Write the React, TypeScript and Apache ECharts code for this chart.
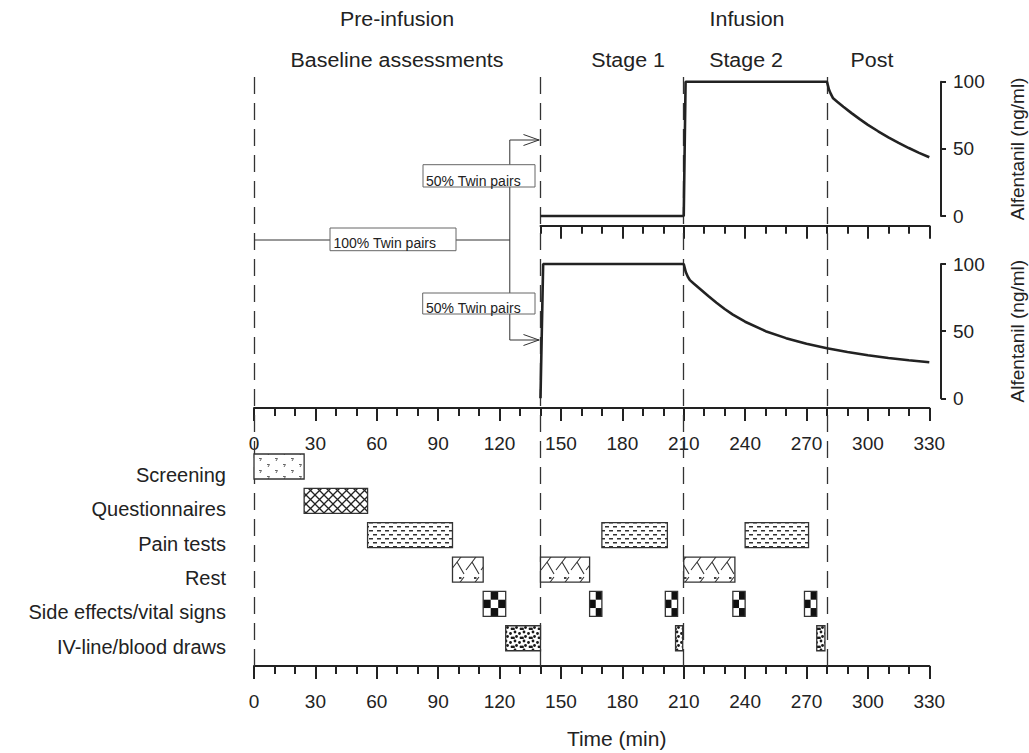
import React, { useEffect, useRef } from 'react';
import * as echarts from 'echarts';

const FONT = '"Liberation Sans", Arial, Helvetica, sans-serif';
const INK = '#222222';

// ---- time axis ----
const timeMin = 0;
const timeMax = 330;
const timeInterval = 30;
const phaseBoundaries = [0, 140, 210, 280];
const upperAxisMajorTicks = [150, 180, 210, 240, 270, 300, 330];
const upperAxisMinorTicks = [140, 160, 170, 190, 200, 220, 230, 250, 260, 280, 290, 310, 320];

// ---- concentration axes ----
const concMin = 0;
const concMax = 100;
const concInterval = 50;

// ---- upper panel: alfentanil ----
const upperTime = [140, 210, 210.9, 280, 280.5, 281, 282, 283, 285, 288, 292, 296, 300, 305, 310, 315, 320, 325, 330];
const upperConc = [0, 0, 100, 100, 97, 94, 90.5, 87.6, 85, 81.3, 76.6, 72.1, 67.9, 63.1, 58.6, 54.5, 50.6, 47, 43.7];

// ---- lower panel: alfentanil ----
const lowerTime = [140, 141.3, 210, 210.5, 211, 212, 213, 215, 218, 222, 226, 230, 234, 240, 250, 260, 270, 280, 290, 300, 310, 320, 330];
const lowerConc = [0, 100, 100, 97, 94, 90.5, 88, 85.3, 81.4, 76.2, 71.2, 66.5, 62.3, 57, 50, 44.8, 40.6, 37.3, 34.5, 32.1, 30, 28.3, 26.8];

// ---- study activities (start, end in minutes) ----
const activities = ['Screening', 'Questionnaires', 'Pain tests', 'Rest', 'Side effects/vital signs', 'IV-line/blood draws'];
const screeningTimes = [[0, 24.5]];
const questionnaireTimes = [[24.5, 55.5]];
const painTestTimes = [[55.5, 97], [170, 202], [240, 271]];
const restTimes = [[97, 112], [140, 164], [210, 235]];
const sideEffectTimes = [[112, 123], [164, 170], [201, 207], [234, 240], [269, 275]];
const ivLineTimes = [[123, 140], [206, 209.5], [275, 279]];

// ---- twin-pair allocation annotation ----
const twinBranchTime = 125;
const twinArrowTime = 140;

// ---- layout ----
const W = 1029;
const H = 753;
const GRID_LEFT = 254;
const GRID_RIGHT = 99.7;
const GRID_W = W - GRID_LEFT - GRID_RIGHT;
const xPx = (t: number) => GRID_LEFT + ((t - timeMin) * GRID_W) / (timeMax - timeMin);

function makePattern(w: number, h: number, draw: (ctx: CanvasRenderingContext2D) => void) {
  const c = document.createElement('canvas');
  c.width = w;
  c.height = h;
  const ctx = c.getContext('2d') as CanvasRenderingContext2D;
  ctx.fillStyle = '#ffffff';
  ctx.fillRect(0, 0, w, h);
  draw(ctx);
  return { image: c.toDataURL(), repeat: 'repeat', imageWidth: w, imageHeight: h };
}

function buildPatterns() {
  const screening = makePattern(16, 12, (ctx) => {
    ctx.strokeStyle = '#666';
    ctx.lineWidth = 1;
    ctx.beginPath();
    ctx.moveTo(3, 2.5); ctx.lineTo(5.5, 2.5); ctx.lineTo(4, 5);
    ctx.moveTo(11, 8.5); ctx.lineTo(13.5, 8.5); ctx.lineTo(12, 11);
    ctx.stroke();
  });
  const quest = makePattern(9, 9, (ctx) => {
    ctx.strokeStyle = '#222';
    ctx.lineWidth = 1.3;
    ctx.beginPath();
    ctx.moveTo(0, 0); ctx.lineTo(9, 9);
    ctx.moveTo(9, 0); ctx.lineTo(0, 9);
    ctx.stroke();
  });
  const pain = makePattern(8, 8, (ctx) => {
    ctx.fillStyle = '#333';
    ctx.fillRect(1, 2, 4, 1.5);
    ctx.fillRect(5, 6, 3, 1.5);
    ctx.fillRect(0, 6, 1, 1.5);
  });
  const rest = makePattern(15, 24, (ctx) => {
    ctx.strokeStyle = '#333';
    ctx.lineWidth = 1.1;
    ctx.beginPath();
    ctx.moveTo(14, 1); ctx.lineTo(1, 18);
    ctx.moveTo(7, 10); ctx.lineTo(14, 22);
    ctx.stroke();
    ctx.strokeStyle = '#111';
    ctx.lineWidth = 1.6;
    ctx.beginPath();
    ctx.moveTo(9, 2); ctx.lineTo(11.5, 2);
    ctx.stroke();
  });
  const iv = makePattern(9, 9, (ctx) => {
    ctx.fillStyle = '#1a1a1a';
    const dots = [[2, 2], [6.5, 3.5], [3.5, 6.5], [8, 7.8], [0.5, 8]];
    dots.forEach(([x, y]) => {
      ctx.beginPath();
      ctx.arc(x, y, 1.4, 0, Math.PI * 2);
      ctx.fill();
    });
  });
  return [screening, quest, pain, rest, null, iv];
}

export default function App() {
  const ref = useRef<HTMLDivElement>(null);

  useEffect(() => {
    if (!ref.current) return;
    const chart = echarts.init(ref.current, undefined, { renderer: 'svg' });
    const patterns = buildPatterns();

    const ganttRows = [screeningTimes, questionnaireTimes, painTestTimes, restTimes, sideEffectTimes, ivLineTimes];
    const ganttData = ganttRows.flatMap((rows, ci) => rows.map(([s, e]) => [ci, s, e]));

    const tickStyle = { color: INK, width: 2 };
    const labelStyle = { fontSize: 19, color: INK, fontFamily: FONT };

    const fullTimeAxis = (gridIndex: number, offset: number, extra: any = {}) => ({
      gridIndex,
      type: 'value',
      min: timeMin,
      max: timeMax,
      interval: timeInterval,
      offset,
      position: 'bottom',
      axisLine: { show: true, onZero: false, lineStyle: tickStyle },
      axisTick: { show: true, length: 13, lineStyle: tickStyle },
      minorTick: { show: true, splitNumber: 3, length: 8, lineStyle: tickStyle },
      axisLabel: { margin: 26, ...labelStyle },
      splitLine: { show: false },
      minorSplitLine: { show: false },
      ...extra,
    });

    const concAxis = (gridIndex: number) => ({
      gridIndex,
      type: 'value',
      position: 'right',
      offset: 941 - (W - GRID_RIGHT),
      min: concMin,
      max: concMax,
      interval: concInterval,
      axisLine: { show: true, onZero: false, lineStyle: tickStyle },
      axisTick: { show: true, length: 5, lineStyle: tickStyle },
      axisLabel: { margin: 12, ...labelStyle },
      splitLine: { show: false },
      name: 'Alfentanil (ng/ml)',
      nameLocation: 'middle',
      nameRotate: 90,
      nameGap: 67,
      nameTextStyle: { fontSize: 19, color: INK, fontFamily: FONT },
    });

    const hidden = (gridIndex: number, min: number, max: number) => ({
      gridIndex, type: 'value', min, max, show: false,
    });

    const headers = [
      { text: 'Pre-infusion', x: 397, y: 18.5 },
      { text: 'Infusion', x: 747, y: 18.5 },
      { text: 'Baseline assessments', x: 397, y: 60 },
      { text: 'Stage 1', x: 628, y: 60 },
      { text: 'Stage 2', x: 746, y: 60 },
      { text: 'Post', x: 872, y: 60 },
    ];

    const xb = xPx(twinBranchTime);
    const xa = xPx(twinArrowTime);
    const lineSt = { stroke: '#333', lineWidth: 1 };
    const yTop = 140, yMid = 240, yBot = 340;

    const graphic: any[] = [
      ...headers.map((h) => ({
        type: 'text', x: h.x, y: h.y, z: 100, scaleX: 1.07,
        style: { text: h.text, fontSize: 20, fontFamily: FONT, fill: INK, align: 'center', verticalAlign: 'middle' },
      })),
      { type: 'line', z: 50, shape: { x1: xPx(0), y1: yMid, x2: xb, y2: yMid }, style: lineSt },
      { type: 'line', z: 50, shape: { x1: xb, y1: yTop, x2: xb, y2: yBot }, style: lineSt },
      { type: 'line', z: 50, shape: { x1: xb, y1: yTop, x2: xa - 1, y2: yTop }, style: lineSt },
      { type: 'line', z: 50, shape: { x1: xb, y1: yBot, x2: xa - 1, y2: yBot }, style: lineSt },
      { type: 'polyline', z: 50, shape: { points: [[xa - 17, yTop - 5.5], [xa - 1.5, yTop], [xa - 17, yTop + 5.5]] }, style: { ...lineSt, fill: 'none' } },
      { type: 'polyline', z: 50, shape: { points: [[xa - 17, yBot - 5.5], [xa - 1.5, yBot], [xa - 17, yBot + 5.5]] }, style: { ...lineSt, fill: 'none' } },
      { type: 'rect', z: 60, shape: { x: 330, y: 228, width: 126, height: 22.7 }, style: { fill: '#fff', stroke: '#666', lineWidth: 1 } },
      { type: 'text', z: 61, x: 333.5, y: 243, style: { text: '100% Twin pairs', fontSize: 14, fontFamily: FONT, fill: INK, align: 'left', verticalAlign: 'middle' } },
      { type: 'rect', z: 60, shape: { x: 423, y: 164.7, width: 112, height: 22.3 }, style: { fill: '#fff', stroke: '#666', lineWidth: 1 } },
      { type: 'text', z: 61, x: 426, y: 180.5, style: { text: '50% Twin pairs', fontSize: 14, fontFamily: FONT, fill: INK, align: 'left', verticalAlign: 'middle' } },
      { type: 'rect', z: 60, shape: { x: 422.7, y: 293, width: 112.3, height: 21 }, style: { fill: '#fff', stroke: '#666', lineWidth: 1 } },
      { type: 'text', z: 61, x: 426, y: 308, style: { text: '50% Twin pairs', fontSize: 14, fontFamily: FONT, fill: INK, align: 'left', verticalAlign: 'middle' } },
    ];

    const BAR_H = 25;
    const BAR_SHIFT = 8.4;

    const gridBase = { left: GRID_LEFT, right: GRID_RIGHT, containLabel: false, outerBoundsMode: 'none' };

    const option: any = {
      animation: false,
      backgroundColor: '#ffffff',
      textStyle: { fontFamily: FONT },
      grid: [
        { ...gridBase, top: 68, height: 598 },
        { ...gridBase, top: 81.7, height: 134.3 },
        { ...gridBase, left: xPx(140), top: 224.7, height: 1 },
        { ...gridBase, top: 264, height: 134.3 },
        { ...gridBase, top: 457.7, height: 206.1 },
      ],
      xAxis: [
        hidden(0, timeMin, timeMax),
        hidden(1, timeMin, timeMax),
        {
          gridIndex: 2, type: 'value', min: 140, max: timeMax, position: 'bottom',
          axisLine: { show: true, onZero: false, lineStyle: tickStyle },
          axisTick: { show: true, length: 13, customValues: upperAxisMajorTicks, lineStyle: tickStyle },
          axisLabel: { show: false },
          splitLine: { show: false },
        },
        {
          gridIndex: 2, type: 'value', min: 140, max: timeMax, position: 'bottom',
          axisLine: { show: false, onZero: false },
          axisTick: { show: true, length: 8, customValues: upperAxisMinorTicks, lineStyle: tickStyle },
          axisLabel: { show: false },
          splitLine: { show: false },
        },
        fullTimeAxis(3, 9.7),
        fullTimeAxis(4, 2.3, {
          name: 'Time (min)',
          nameLocation: 'middle',
          nameGap: 62,
          nameTextStyle: { fontSize: 21, color: INK, fontFamily: FONT, padding: [0, 0, 0, 50] },
        }),
      ],
      yAxis: [
        hidden(0, 0, 1),
        concAxis(1),
        hidden(2, 0, 1),
        concAxis(3),
        {
          gridIndex: 4,
          type: 'category',
          data: activities,
          inverse: true,
          axisLine: { show: false },
          axisTick: { show: false },
          axisLabel: { fontSize: 20, color: INK, fontFamily: FONT, margin: 28 },
          splitLine: { show: false },
        },
      ],
      series: [
        {
          type: 'line',
          xAxisIndex: 0,
          yAxisIndex: 0,
          data: [[0, 0]],
          symbol: 'none',
          showSymbol: false,
          lineStyle: { opacity: 0 },
          silent: true,
          z: 1,
          markLine: {
            silent: true,
            symbol: ['none', 'none'],
            label: { show: false },
            lineStyle: { type: [17, 9], color: '#333', width: 1.3 },
            data: phaseBoundaries.map((v) => ({ xAxis: v })),
          },
        },
        {
          type: 'line',
          xAxisIndex: 1,
          yAxisIndex: 1,
          data: upperTime.map((t, i) => [t, upperConc[i]]),
          symbol: 'none',
          showSymbol: false,
          clip: false,
          lineStyle: { color: INK, width: 2.6 },
          z: 5,
        },
        {
          type: 'line',
          xAxisIndex: 4,
          yAxisIndex: 3,
          data: lowerTime.map((t, i) => [t, lowerConc[i]]),
          symbol: 'none',
          showSymbol: false,
          clip: false,
          lineStyle: { color: INK, width: 2.6 },
          z: 5,
        },
        {
          type: 'custom',
          xAxisIndex: 5,
          yAxisIndex: 4,
          data: ganttData,
          encode: { x: [1, 2], y: 0 },
          z: 5,
          renderItem: (params: any, api: any) => {
            const cat = api.value(0);
            const p0 = api.coord([api.value(1), cat]);
            const p1 = api.coord([api.value(2), cat]);
            const x = p0[0];
            const w = p1[0] - p0[0];
            const y = p0[1] - BAR_SHIFT - BAR_H / 2;
            const h = BAR_H;
            if (cat === 4) {
              const cols = Math.max(2, Math.round(w / 7.3));
              const rows = 3;
              const cw = w / cols;
              const ch = h / rows;
              const children: any[] = [{ type: 'rect', shape: { x, y, width: w, height: h }, style: { fill: '#fff' } }];
              for (let r = 0; r < rows; r++) {
                for (let c = 0; c < cols; c++) {
                  if ((r + c) % 2 === 1) {
                    children.push({ type: 'rect', shape: { x: x + c * cw, y: y + r * ch, width: cw, height: ch }, style: { fill: '#111' } });
                  }
                }
              }
              children.push({ type: 'rect', shape: { x, y, width: w, height: h }, style: { fill: 'none', stroke: '#333', lineWidth: 1.3 } });
              return { type: 'group', children };
            }
            return {
              type: 'rect',
              shape: { x, y, width: w, height: h },
              style: { fill: patterns[cat], stroke: '#333', lineWidth: 1.3 },
            };
          },
        },
      ],
      graphic,
    };

    chart.setOption(option);
    return () => {
      chart.dispose();
    };
  }, []);

  return (
    <div
      ref={ref}
      style={{ position: 'absolute', left: 0, top: 0, width: W, height: H, background: '#fff' }}
    />
  );
}
